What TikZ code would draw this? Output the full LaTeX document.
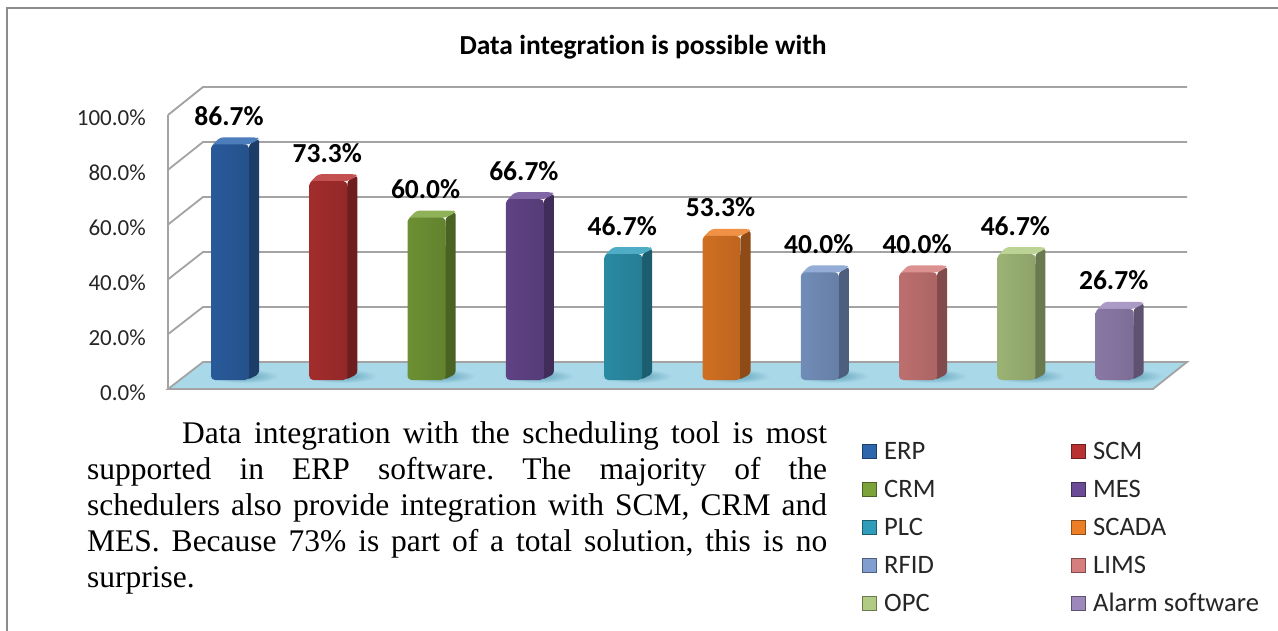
\documentclass[tikz,border=0pt]{standalone}
\usepackage{fontspec}
\setmainfont{Liberation Serif}
\newfontfamily\cf[Ligatures=NoCommon]{Carlito}
\definecolor{cERP}{HTML}{2E66AE}
\definecolor{cSCM}{HTML}{B83232}
\definecolor{cCRM}{HTML}{7BA33A}
\definecolor{cMES}{HTML}{6B4B96}
\definecolor{cPLC}{HTML}{2F9DB9}
\definecolor{cSCADA}{HTML}{EC7E26}
\definecolor{cRFID}{HTML}{809FD0}
\definecolor{cLIMS}{HTML}{D67E7D}
\definecolor{cOPC}{HTML}{B0CB84}
\definecolor{cALARM}{HTML}{9C88BB}
\definecolor{floorc}{HTML}{A9D8E8}
\definecolor{shadowc}{HTML}{5E9FB6}
\definecolor{gridc}{HTML}{A3A3A3}
\definecolor{framec}{HTML}{8C8C8C}
\tikzset{
  gridline/.style={draw=gridc, line width=1.8pt},
  axislab/.style={anchor=base east, inner sep=0pt, font=\cf\fontsize{23}{27}\selectfont, text=black!85},
  vallab/.style={anchor=base, inner sep=0pt, font=\cf\bfseries\fontsize{27.5}{31}\selectfont},
  legsq/.style={minimum width=14pt, minimum height=14pt, inner sep=0pt},
  legtxt/.style={anchor=base west, inner sep=0pt, font=\cf\fontsize{26.6}{30}\selectfont, text=black!85},
}
\begin{document}
\begin{tikzpicture}[x=1pt,y=-1pt]
\useasboundingbox (0,0) rectangle (1278,631);
\fill[white] (0,0) rectangle (1278,631);
% frame
\draw[framec, line width=1.5pt] (7,631) -- (7,8) -- (1278,8);
% title
\node[anchor=base, inner sep=0pt, font=\cf\bfseries\fontsize{27.5}{31}\selectfont] (title) at (643,55) {Data integration is possible with};
% walls and gridlines
\draw[gridc, line width=1.8pt] (168,115) -- (168,389);
\foreach \k in {1,...,5}{
  \pgfmathsetmacro{\yf}{389-\k*20*2.74}
  \pgfmathsetmacro{\yb}{362-\k*20*2.75}
  \draw[gridline] (168,\yf) -- (203,\yb) -- (1187,\yb);
}
% floor
\filldraw[fill=floorc, draw=gridc, line width=1.8pt] (168,389) -- (203,362) -- (1187,362) -- (1153,389) -- cycle;
% axis labels
\foreach \k/\t in {0/0.0\%,1/20.0\%,2/40.0\%,3/60.0\%,4/80.0\%,5/100.0\%}{
  \pgfmathsetmacro{\yf}{389-\k*20*2.74+11}
  \node[axislab] (ax\k) at (146,\yf) {\t};
}
% bars
\foreach \i/\v/\c in {0/86.7/cERP,1/73.3/cSCM,2/60.0/cCRM,3/66.7/cMES,4/46.7/cPLC,5/53.3/cSCADA,6/40.0/cRFID,7/40.0/cLIMS,8/46.7/cOPC,9/26.7/cALARM}{
  \pgfmathsetmacro{\xa}{211+98.3*\i}
  \pgfmathsetmacro{\xb}{\xa+38}
  \pgfmathsetmacro{\xc}{\xa+48}
  \pgfmathsetmacro{\yv}{375-\v*2.74}
  \pgfmathsetmacro{\yt}{\yv+7}
  \pgfmathsetmacro{\xs}{\xa+32}
  \shade[inner color=shadowc, outer color=floorc] (\xs,376) ellipse [x radius=36, y radius=7];
  \fill[\c!60!black, rounded corners=3pt] (\xb-2,380) -- (\xc,374) -- (\xc,\yv+1) -- (\xb,\yt) -- cycle;
  \fill[\c!85!white, rounded corners=3pt] (\xa,\yt+2) -- (\xa+9,\yv) -- (\xc-2,\yv) -- (\xc,\yv+2) -- (\xb,\yt) -- cycle;
  \shade[left color=\c!88!black, middle color=\c!92!white, right color=\c!80!black, rounded corners=4pt] (\xa,380) -- (\xa,\yt) -- (\xb,\yt) -- (\xb,380) -- cycle;
  \node[vallab] (val\i) at (\xa+18,\yv-12) {\v\%};
}
% legend
\foreach \r/\ca/\la/\cb/\lb in {0/cERP/ERP/cSCM/SCM,1/cCRM/CRM/cMES/MES,2/cPLC/PLC/cSCADA/SCADA,3/cRFID/RFID/cLIMS/LIMS,4/cOPC/OPC/cALARM/Alarm software}{
  \pgfmathsetmacro{\yy}{451+38*\r}
  \node[legsq, fill=\ca, draw=\ca!60!black, line width=1pt] (sqa\r) at (869,\yy) {};
  \node[legtxt] (lta\r) at (884,\yy+8) {\la};
  \node[legsq, fill=\cb, draw=\cb!60!black, line width=1pt] (sqb\r) at (1078,\yy) {};
  \node[legtxt] (ltb\r) at (1093,\yy+8) {\lb};
}
% paragraph
\node[anchor=base west, inner sep=0pt] (para) at (87,443) {\parbox[t]{740pt}{\frenchspacing\fontsize{31.5}{36}\selectfont
\makebox[740pt][s]{\hspace*{95pt}Data integration with the scheduling tool is most}\\
\makebox[740pt][s]{supported in ERP software. The majority of the}\\
\makebox[740pt][s]{schedulers also provide integration with SCM, CRM and}\\
\makebox[740pt][s]{MES. Because 73\% is part of a total solution, this is no}\\
surprise.}};
\end{tikzpicture}
\end{document}
